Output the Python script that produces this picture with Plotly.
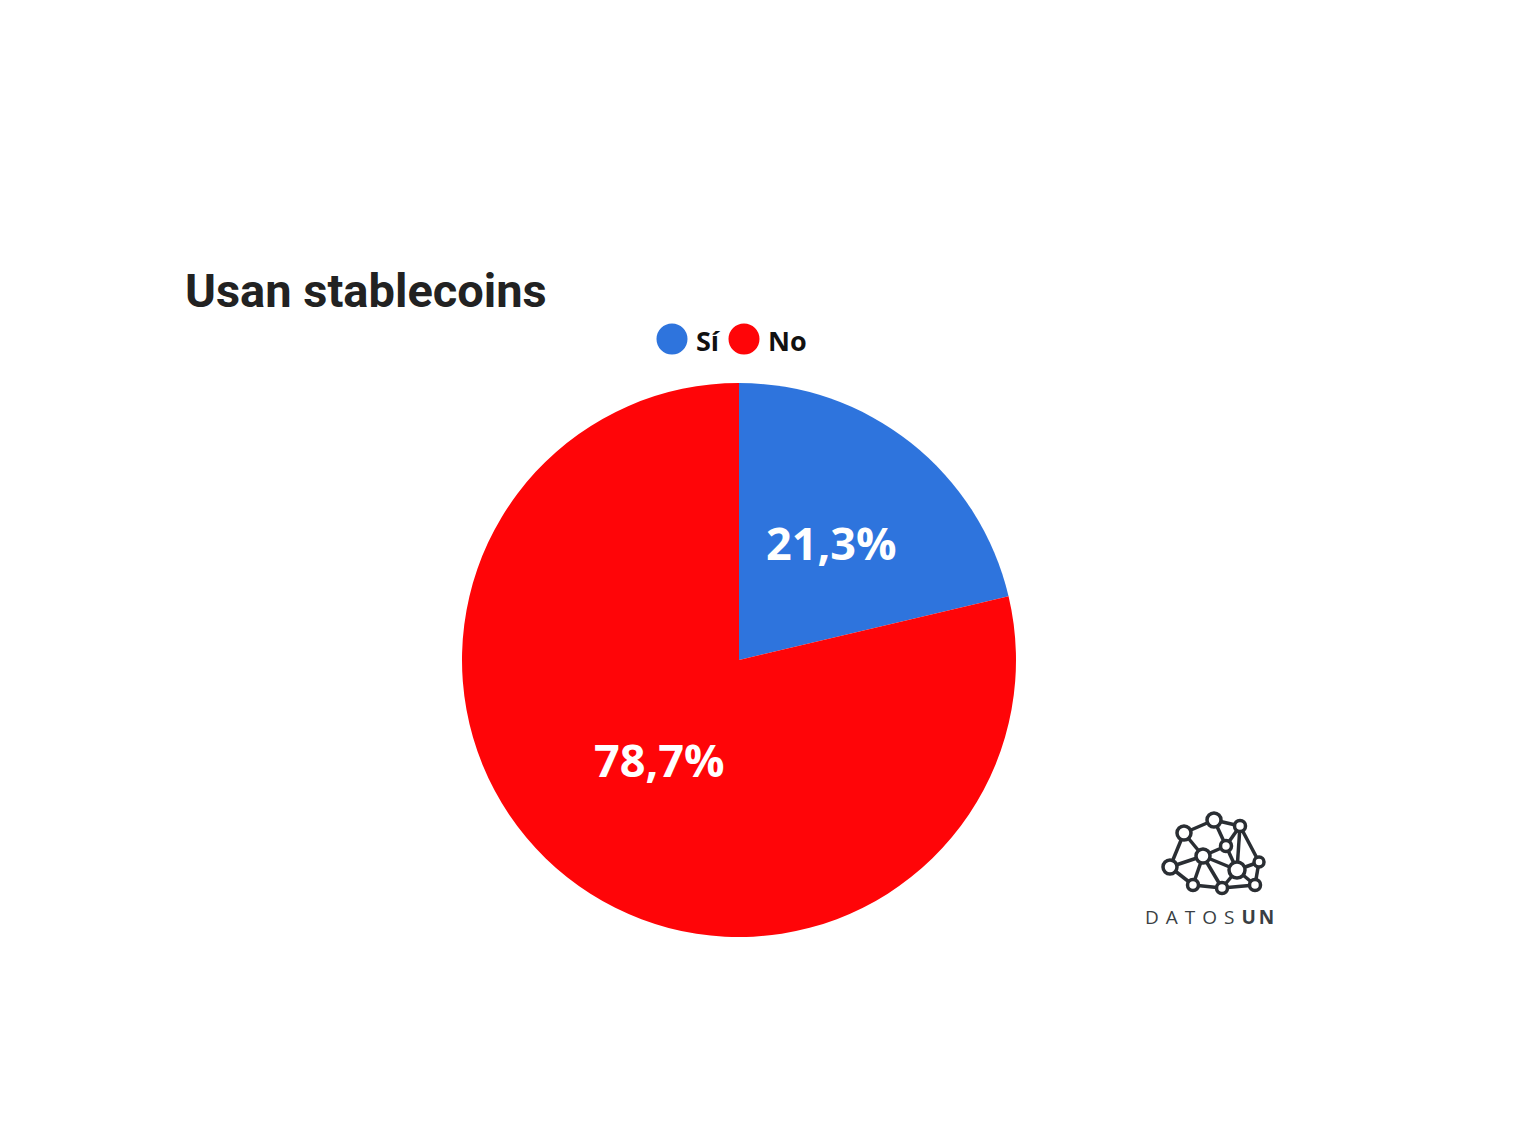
import math
import plotly.graph_objects as go

W, H = 1535, 1146
OFF = 8  # page body margin

categories = ["Sí", "No"]
values = [21.3, 78.7]
value_labels = ["21,3%", "78,7%"]
colors = ["#2E74DD", "#FF0508"]
title_text = "Usan stablecoins"

# logo network (pixel layout of decoration)
logo_nodes = {
    "A": (1214, 820, 7), "B": (1184, 833, 7), "C": (1240, 826, 5.5),
    "D": (1226, 846, 5.5), "E": (1203, 856, 7), "F": (1170, 867, 7),
    "G": (1259, 862, 5), "H": (1237, 870, 8), "I": (1193, 885, 5.5),
    "J": (1222, 888, 5.5), "K": (1255, 885, 5.5),
}
logo_edges = [("A", "B"), ("A", "C"), ("A", "D"), ("B", "E"), ("B", "F"),
              ("C", "D"), ("C", "H"), ("C", "G"), ("D", "E"), ("D", "H"),
              ("E", "F"), ("E", "H"), ("E", "I"), ("E", "J"), ("F", "I"),
              ("I", "J"), ("J", "H"), ("H", "K"), ("K", "G"), ("H", "G"),
              ("J", "K")]


def px(x):
    return (x - OFF) / W


def py(y):
    return 1 - (y - OFF) / H


cx, cy, r = 739, 660, 277
label_radius = [0.54, 0.46]  # fraction of pie radius for value labels

fig = go.Figure()
fig.add_trace(go.Pie(
    labels=categories,
    values=values,
    textinfo="none",
    sort=False,
    direction="clockwise",
    rotation=0,
    marker=dict(colors=colors, line=dict(width=0)),
    domain=dict(x=[px(cx - r), px(cx + r)], y=[py(cy + r), py(cy - r)]),
    showlegend=False,
    hoverinfo="label+percent",
))

shapes = []
annotations = []

# value labels at slice mid-angles
total = sum(values)
cum = 0.0
for i, v in enumerate(values):
    mid = (cum + v / 2) / total * 2 * math.pi
    cum += v
    d = label_radius[i] * r
    lx = cx + d * math.sin(mid)
    ly = cy - d * math.cos(mid)
    annotations.append(dict(text=value_labels[i], x=px(lx), y=py(ly), xref="paper", yref="paper",
                            xanchor="center", yanchor="middle", showarrow=False,
                            font=dict(family="Open Sans", size=45, color="white", weight="bold")))

# title
annotations.append(dict(text=title_text, x=px(183), y=py(291), xref="paper", yref="paper",
                        xanchor="left", yanchor="middle", showarrow=False,
                        font=dict(family="Roboto", size=47, color="#222222", weight="bold")))

# legend
leg_x = [672, 744]
leg_y = 339
for i, cat in enumerate(categories):
    x0 = leg_x[i]
    shapes.append(dict(type="circle", xref="paper", yref="paper",
                       x0=px(x0 - 15.5), x1=px(x0 + 15.5), y0=py(leg_y + 15.5), y1=py(leg_y - 15.5),
                       fillcolor=colors[i], line=dict(width=0)))
    annotations.append(dict(text=cat, x=px(x0 + 22), y=py(leg_y + 1), xref="paper", yref="paper",
                            xanchor="left", yanchor="middle", showarrow=False,
                            font=dict(family="Open Sans", size=27, color="#111111", weight="bold")))

# logo
logo_col = "#2A2E33"
for a, b in logo_edges:
    xa, ya, _ = logo_nodes[a]
    xb, yb, _ = logo_nodes[b]
    shapes.append(dict(type="line", xref="paper", yref="paper",
                       x0=px(xa), y0=py(ya), x1=px(xb), y1=py(yb),
                       line=dict(color=logo_col, width=3.5)))
for k, (x, y, rr) in logo_nodes.items():
    shapes.append(dict(type="circle", xref="paper", yref="paper",
                       x0=px(x - rr), x1=px(x + rr), y0=py(y + rr), y1=py(y - rr),
                       fillcolor="white", line=dict(color=logo_col, width=3.5)))
annotations.append(dict(text="<span style='letter-spacing:7px'>DATOS</span><b><span style='letter-spacing:3px'>UN</span></b>",
                        x=px(1143), y=py(917), xref="paper", yref="paper",
                        xanchor="left", yanchor="middle", showarrow=False,
                        font=dict(family="Open Sans", size=19, color="#3A3F44")))

fig.update_layout(
    width=W, height=H,
    margin=dict(l=0, r=0, t=0, b=0),
    paper_bgcolor="white",
    plot_bgcolor="white",
    shapes=shapes,
    annotations=annotations,
)

fig.write_html("out.html")
